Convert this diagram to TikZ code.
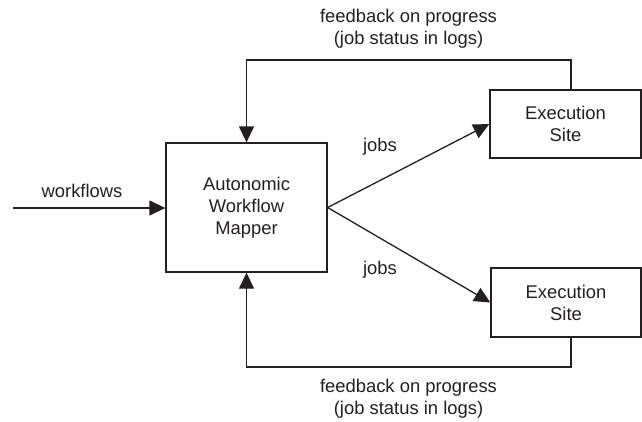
\documentclass[tikz,border=0pt]{standalone}
\usepackage{fontspec}
\setmainfont{Liberation Sans}
\usetikzlibrary{arrows.meta}
\definecolor{ink}{HTML}{231F20}
\begin{document}
\begin{tikzpicture}[x=1pt,y=-1pt,
  every node/.style={font=\fontsize{18.4}{22}\selectfont, text=ink},
  box/.style={draw=ink, line width=1.3pt, align=center, inner sep=0pt},
  lbl/.style={align=center, inner sep=0pt},
  conn/.style={draw=ink, line width=1.3pt},
  arr/.style={conn, -{Triangle[length=16pt,width=15pt]}}]
\useasboundingbox (0,0) rectangle (642,421);
\node[box, minimum width=161pt, minimum height=129pt] (m) at (246.5,207.5) {Autonomic\\Workflow\\Mapper};
\node[box, minimum width=151pt, minimum height=68pt] (s1) at (565.5,124) {Execution\\Site};
\node[box, minimum width=150pt, minimum height=69pt] (s2) at (566,302.5) {Execution\\Site};
\coordinate (wf) at (13,208);
\coordinate (t1) at (571,60);
\coordinate (b1) at (571,367);
\draw[arr] (wf) -- (m.west |- wf);
\node[lbl] (wfl) at (82,191) {workflows};
\draw[arr] (m.east) -- (s1.west);
\draw[arr] (m.east) -- (s2.west);
\node[lbl] (j1) at (380,147) {jobs};
\node[lbl] (j2) at (380,270) {jobs};
\draw[arr] (s1.north -| t1) -- (t1) -| (m.north);
\draw[arr] (s2.south -| b1) -- (b1) -| (m.south);
\node[lbl] (f1) at (408.5,29) {feedback on progress\\(job status in logs)};
\node[lbl] (f2) at (408.5,399) {feedback on progress\\(job status in logs)};
\end{tikzpicture}
\end{document}
